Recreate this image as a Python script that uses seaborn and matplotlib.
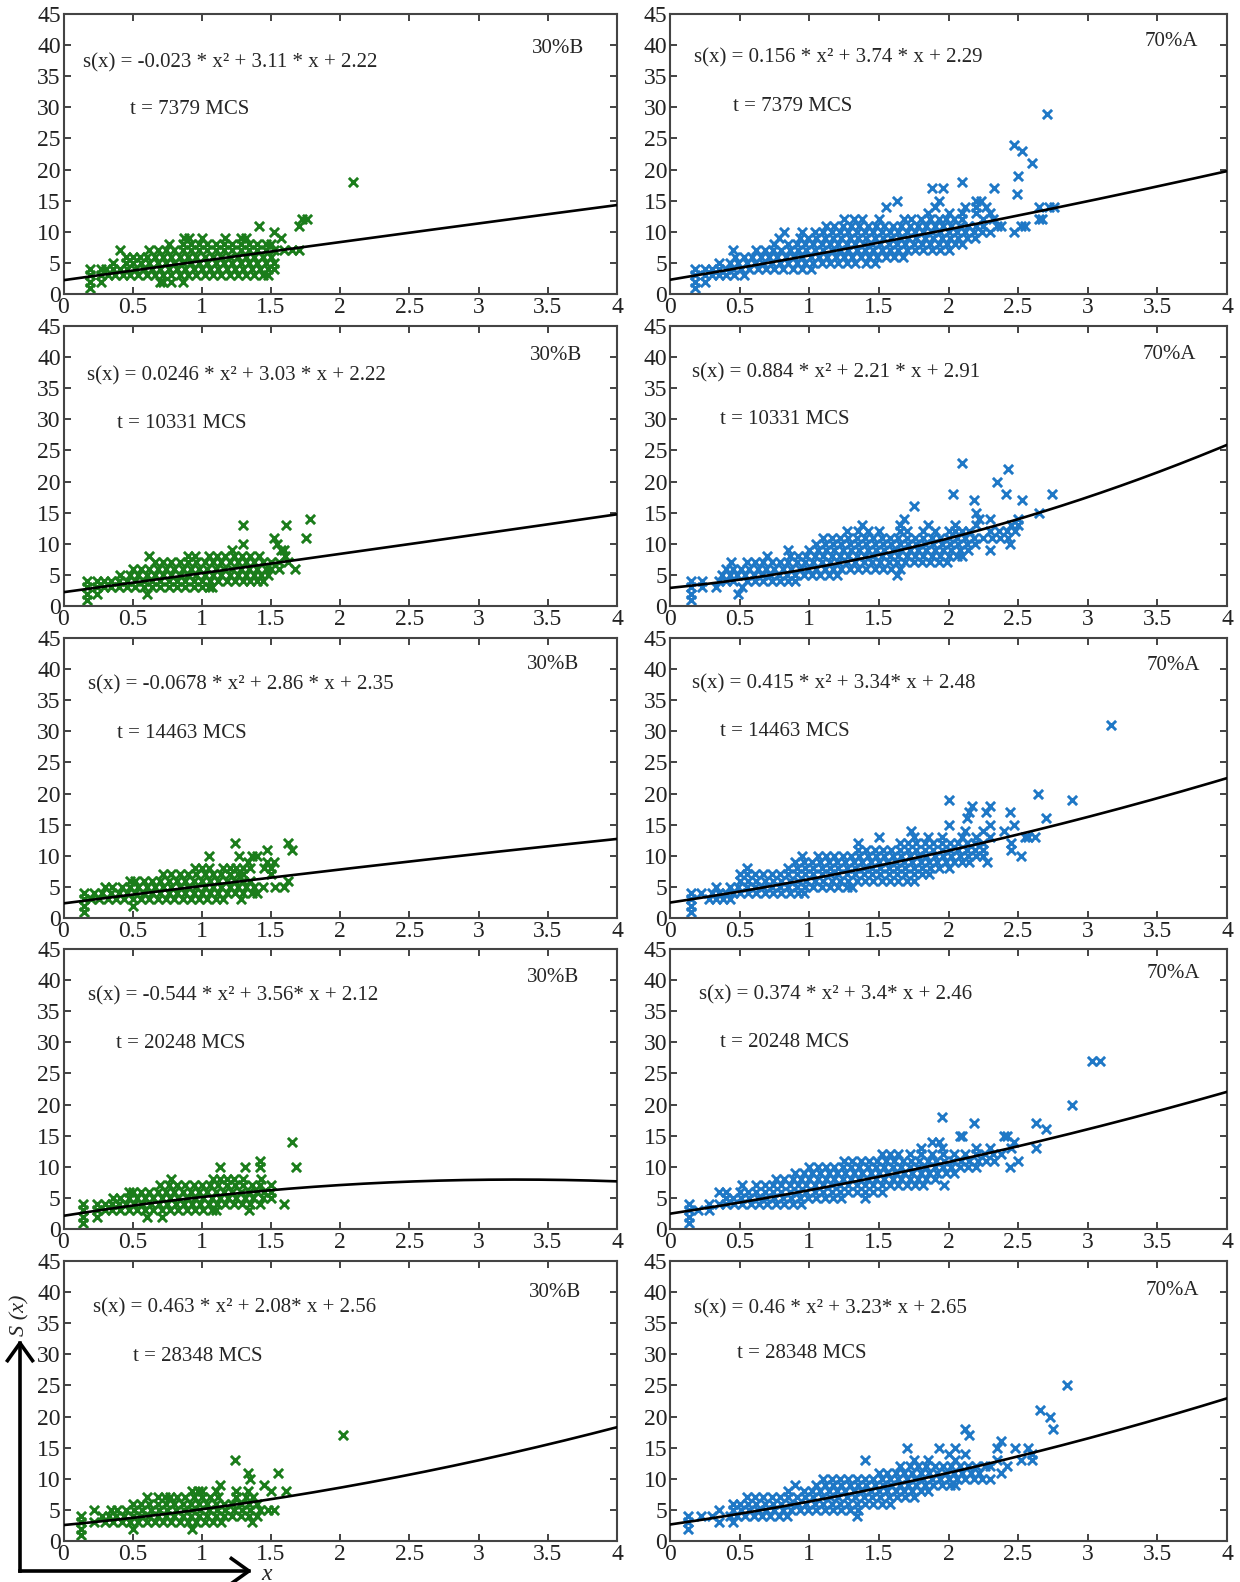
import numpy as np
import pandas as pd
import matplotlib
matplotlib.use("Agg")
import matplotlib.pyplot as plt
import seaborn as sns
from matplotlib.patches import FancyArrowPatch

sns.set_style("ticks")
plt.rcParams['font.family'] = ['Liberation Serif', 'DejaVu Serif']

# ---------------- data ----------------
times = ["7379", "10331", "14463", "20248", "28348"]

coef_B = [(-0.023, 3.11, 2.22), (0.0246, 3.03, 2.22), (-0.0678, 2.86, 2.35),
          (-0.544, 3.56, 2.12), (0.463, 2.08, 2.56)]
coef_A = [(0.156, 3.74, 2.29), (0.884, 2.21, 2.91), (0.415, 3.34, 2.48),
          (0.374, 3.4, 2.46), (0.46, 3.23, 2.65)]

eq_B = ["s(x) = -0.023 * x² + 3.11 * x + 2.22",
        "s(x) = 0.0246 * x² + 3.03 * x + 2.22",
        "s(x) = -0.0678 * x² + 2.86 * x + 2.35",
        "s(x) = -0.544 * x² + 3.56* x + 2.12",
        "s(x) = 0.463 * x² + 2.08* x + 2.56"]
eq_A = ["s(x) = 0.156 * x² + 3.74 * x + 2.29",
        "s(x) = 0.884 * x² + 2.21 * x + 2.91",
        "s(x) = 0.415 * x² + 3.34* x + 2.48",
        "s(x) = 0.374 * x² + 3.4* x + 2.46",
        "s(x) = 0.46 * x² + 3.23* x + 2.65"]

# scatter points: (S value, x values on that level)
B_7379 = [
    (1, "0.19"),
    (2, "0.19 0.27 0.70 0.72 0.78 0.86"),
    (3, "0.19 0.27 0.32 0.37 0.43 0.48 0.54 0.60 0.66 0.72 0.78 0.84 0.90 0.96 1.02 1.08 1.14 1.20 1.26 1.32 1.38 1.44 1.48"),
    (4, "0.19 0.27 0.31 0.36 0.41 0.46 0.52 0.58 0.64 0.70 0.76 0.82 0.88 0.94 1.00 1.06 1.12 1.18 1.24 1.30 1.36 1.42 1.48 1.52"),
    (5, "0.36 0.45 0.50 0.56 0.62 0.68 0.74 0.80 0.86 0.92 0.98 1.04 1.10 1.16 1.22 1.28 1.34 1.40 1.46 1.52"),
    (6, "0.45 0.50 0.55 0.60 0.66 0.72 0.78 0.84 0.90 0.96 1.02 1.08 1.14 1.20 1.26 1.32 1.38 1.44 1.50"),
    (7, "0.41 0.62 0.68 0.74 0.80 0.86 0.92 0.98 1.04 1.10 1.16 1.22 1.28 1.34 1.40 1.46 1.52 1.59 1.65 1.70"),
    (8, "0.76 0.86 0.92 0.98 1.04 1.10 1.16 1.22 1.28 1.34 1.40 1.46 1.50"),
    (9, "0.87 0.91 1.00 1.17 1.28 1.32 1.57"),
    (10, "1.52"),
    (11, "1.41 1.70"),
    (12, "1.72 1.76"),
    (18, "2.09"),
]
A_7379 = [
    (1, "0.18"),
    (2, "0.18 0.25"),
    (3, "0.18 0.25 0.30 0.35 0.40 0.46 0.53"),
    (4, "0.18 0.25 0.30 0.35 0.40 0.45 0.51 0.57 0.63 0.69 0.75 0.81 0.88 0.95 1.01"),
    (5, "0.35 0.43 0.49 0.55 0.61 0.67 0.73 0.79 0.85 0.91 0.97 1.03 1.09 1.15 1.21 1.27 1.33 1.41 1.47"),
    (6, "0.47 0.53 0.59 0.65 0.71 0.77 0.83 0.89 0.95 1.01 1.07 1.13 1.19 1.25 1.31 1.37 1.43 1.49 1.55 1.61 1.67"),
    (7, "0.45 0.62 0.68 0.74 0.80 0.86 0.92 0.98 1.04 1.10 1.16 1.22 1.28 1.34 1.40 1.46 1.52 1.58 1.64 1.70 1.76 1.82 1.88 1.94 2.00"),
    (8, "0.75 0.85 0.91 0.97 1.03 1.09 1.15 1.21 1.27 1.33 1.39 1.45 1.51 1.57 1.63 1.69 1.75 1.81 1.87 1.93 1.99 2.05 2.10"),
    (9, "0.78 0.93 0.99 1.05 1.11 1.17 1.23 1.29 1.35 1.41 1.47 1.53 1.59 1.65 1.71 1.77 1.83 1.89 1.95 2.01 2.07 2.13 2.19"),
    (10, "0.82 0.95 1.04 1.10 1.16 1.22 1.28 1.34 1.40 1.46 1.52 1.58 1.64 1.70 1.76 1.82 1.88 1.94 2.00 2.06 2.12 2.18 2.24 2.30 2.47"),
    (11, "1.12 1.18 1.24 1.30 1.36 1.42 1.48 1.54 1.60 1.66 1.72 1.78 1.84 1.90 1.96 2.02 2.08 2.14 2.20 2.25 2.35 2.38 2.52 2.55"),
    (12, "1.25 1.32 1.38 1.50 1.68 1.73 1.80 1.87 1.93 1.98 2.04 2.10 2.25 2.32 2.65 2.67"),
    (13, "1.85 2.00 2.10 2.20 2.30"),
    (14, "1.55 1.90 2.12 2.20 2.27 2.65 2.72 2.76"),
    (15, "1.63 1.93 2.20 2.23"),
    (16, "2.49"),
    (17, "1.88 1.96 2.33"),
    (18, "2.10"),
    (19, "2.50"),
    (21, "2.60"),
    (23, "2.53"),
    (24, "2.47"),
    (29, "2.71"),
]
B_10331 = [
    (1, "0.17"),
    (2, "0.17 0.24 0.60"),
    (3, "0.17 0.24 0.29 0.34 0.40 0.46 0.52 0.58 0.64 0.70 0.76 0.82 0.88 0.94 1.00 1.05 1.07"),
    (4, "0.17 0.24 0.29 0.34 0.40 0.46 0.52 0.58 0.64 0.70 0.76 0.82 0.88 0.94 1.00 1.06 1.12 1.18 1.24 1.30 1.35 1.40 1.44"),
    (5, "0.41 0.48 0.54 0.60 0.66 0.72 0.78 0.84 0.90 0.96 1.02 1.08 1.14 1.20 1.26 1.32 1.38 1.43 1.48"),
    (6, "0.50 0.56 0.62 0.68 0.74 0.80 0.86 0.92 0.98 1.04 1.10 1.16 1.22 1.28 1.34 1.40 1.46 1.50 1.56 1.67"),
    (7, "0.66 0.72 0.78 0.84 0.90 0.96 1.02 1.08 1.14 1.20 1.26 1.32 1.38 1.44 1.50 1.56 1.62"),
    (8, "0.62 0.90 0.95 1.05 1.11 1.17 1.23 1.29 1.35 1.41 1.60"),
    (9, "1.22 1.57 1.59"),
    (10, "1.30 1.54"),
    (11, "1.52 1.75"),
    (13, "1.30 1.61"),
    (14, "1.78"),
]
A_10331 = [
    (1, "0.15"),
    (2, "0.15 0.49"),
    (3, "0.15 0.23 0.33 0.52"),
    (4, "0.15 0.23 0.35 0.40 0.45 0.55 0.61 0.67 0.73 0.79 0.85 0.90"),
    (5, "0.37 0.43 0.48 0.54 0.60 0.66 0.72 0.78 0.84 0.90 0.96 1.02 1.08 1.14 1.20 1.63"),
    (6, "0.40 0.45 0.51 0.57 0.63 0.69 0.75 0.81 0.87 0.93 0.99 1.05 1.11 1.17 1.23 1.29 1.35 1.41 1.47 1.53 1.59 1.65"),
    (7, "0.44 0.55 0.61 0.67 0.73 0.79 0.85 0.91 0.97 1.03 1.09 1.15 1.21 1.27 1.33 1.39 1.45 1.51 1.57 1.63 1.69 1.75 1.81 1.87 1.93 1.99"),
    (8, "0.70 0.86 0.92 0.98 1.04 1.10 1.16 1.22 1.28 1.34 1.40 1.46 1.52 1.58 1.64 1.70 1.76 1.82 1.88 1.94 2.00 2.06 2.10"),
    (9, "0.85 1.00 1.06 1.12 1.18 1.24 1.30 1.36 1.42 1.48 1.54 1.60 1.66 1.72 1.78 1.84 1.90 1.96 2.02 2.08 2.14 2.30"),
    (10, "1.05 1.11 1.17 1.23 1.29 1.35 1.41 1.47 1.53 1.59 1.65 1.71 1.77 1.83 1.89 1.95 2.01 2.07 2.13 2.19 2.44"),
    (11, "1.10 1.16 1.22 1.28 1.34 1.40 1.46 1.52 1.58 1.64 1.70 1.76 1.82 1.88 1.94 2.00 2.06 2.12 2.18 2.25 2.31 2.37 2.43"),
    (12, "1.27 1.35 1.42 1.50 1.65 1.70 1.82 1.90 2.00 2.05 2.10 2.15 2.30 2.36 2.42 2.48"),
    (13, "1.38 1.65 1.85 2.05 2.20 2.45 2.50"),
    (14, "1.68 2.22 2.30 2.50"),
    (15, "2.20 2.65"),
    (16, "1.75"),
    (17, "2.18 2.53"),
    (18, "2.03 2.41 2.74"),
    (20, "2.35"),
    (22, "2.43"),
    (23, "2.10"),
]
B_14463 = [
    (1, "0.15"),
    (2, "0.15 0.50"),
    (3, "0.15 0.20 0.26 0.32 0.38 0.44 0.50 0.56 0.62 0.68 0.74 0.80 0.86 0.92 0.98 1.04 1.10 1.15 1.28"),
    (4, "0.15 0.22 0.28 0.34 0.40 0.46 0.52 0.58 0.64 0.70 0.76 0.82 0.88 0.94 1.00 1.06 1.12 1.18 1.24 1.30 1.36 1.40"),
    (5, "0.30 0.35 0.42 0.48 0.54 0.60 0.66 0.72 0.78 0.84 0.90 0.96 1.02 1.08 1.14 1.20 1.26 1.32 1.38 1.44 1.53 1.59"),
    (6, "0.48 0.52 0.58 0.64 0.70 0.76 0.82 0.88 0.94 1.00 1.06 1.12 1.18 1.24 1.30 1.35 1.62"),
    (7, "0.72 0.78 0.84 0.90 0.96 1.02 1.08 1.14 1.20 1.26 1.30 1.50"),
    (8, "0.95 1.00 1.05 1.15 1.20 1.25 1.30 1.35 1.45 1.50"),
    (9, "1.33 1.47 1.52"),
    (10, "1.05 1.27 1.36 1.40"),
    (11, "1.47 1.65"),
    (12, "1.24 1.62"),
]
A_14463 = [
    (1, "0.15"),
    (2, "0.15"),
    (3, "0.15 0.28 0.33 0.38 0.43"),
    (4, "0.15 0.22 0.30 0.35 0.40 0.45 0.50 0.56 0.62 0.68 0.74 0.80 0.86 0.92 0.96"),
    (5, "0.33 0.43 0.49 0.55 0.61 0.67 0.73 0.79 0.85 0.91 0.97 1.03 1.09 1.15 1.21 1.27 1.31"),
    (6, "0.50 0.56 0.62 0.68 0.74 0.80 0.86 0.92 0.98 1.04 1.10 1.16 1.22 1.28 1.34 1.40 1.46 1.52 1.58 1.64 1.70 1.75"),
    (7, "0.50 0.55 0.61 0.67 0.73 0.79 0.85 0.91 0.97 1.03 1.09 1.15 1.21 1.27 1.33 1.39 1.45 1.51 1.57 1.63 1.69 1.75 1.81 1.86"),
    (8, "0.55 0.85 0.91 0.97 1.03 1.09 1.15 1.21 1.27 1.33 1.39 1.45 1.51 1.57 1.63 1.69 1.75 1.81 1.87 1.93 2.00"),
    (9, "0.90 0.96 1.02 1.08 1.14 1.20 1.26 1.32 1.38 1.44 1.50 1.56 1.62 1.68 1.74 1.80 1.86 1.92 1.98 2.04 2.10 2.15 2.28"),
    (10, "0.95 1.06 1.12 1.18 1.24 1.30 1.36 1.42 1.48 1.54 1.60 1.66 1.72 1.78 1.84 1.90 1.96 2.02 2.08 2.14 2.20 2.25 2.52"),
    (11, "1.35 1.41 1.47 1.53 1.59 1.65 1.71 1.77 1.83 1.89 1.95 2.01 2.07 2.13 2.19 2.25 2.45"),
    (12, "1.35 1.65 1.71 1.77 1.83 1.89 1.95 2.01 2.07 2.13 2.19 2.25 2.45"),
    (13, "1.50 1.75 1.85 1.95 2.10 2.20 2.30 2.55 2.57 2.62"),
    (14, "1.73 2.12 2.25 2.40"),
    (15, "2.00 2.30 2.47"),
    (16, "2.13 2.70"),
    (17, "2.15 2.27 2.44"),
    (18, "2.17 2.30"),
    (19, "2.00 2.89"),
    (20, "2.64"),
    (31, "3.17"),
]
B_20248 = [
    (1, "0.14"),
    (2, "0.14 0.24 0.60 0.71"),
    (3, "0.14 0.24 0.30 0.35 0.41 0.47 0.53 0.59 0.65 0.71 0.77 0.83 0.89 0.95 1.01 1.07 1.10 1.34"),
    (4, "0.14 0.24 0.30 0.35 0.40 0.45 0.51 0.57 0.63 0.69 0.75 0.81 0.87 0.93 0.99 1.05 1.11 1.17 1.23 1.29 1.35 1.42 1.59"),
    (5, "0.36 0.41 0.47 0.53 0.59 0.65 0.71 0.77 0.83 0.89 0.95 1.01 1.07 1.13 1.19 1.25 1.31 1.37 1.44 1.50"),
    (6, "0.47 0.50 0.56 0.62 0.68 0.74 0.80 0.86 0.92 0.98 1.04 1.10 1.16 1.22 1.28 1.34 1.40 1.45 1.50"),
    (7, "0.70 0.76 0.82 0.88 0.94 1.00 1.06 1.12 1.18 1.24 1.30 1.36 1.42 1.50"),
    (8, "0.78 1.08 1.13 1.18 1.23 1.30 1.43"),
    (10, "1.13 1.31 1.42 1.68"),
    (11, "1.42"),
    (14, "1.65"),
]
A_20248 = [
    (1, "0.14"),
    (2, "0.14"),
    (3, "0.14 0.20 0.28"),
    (4, "0.14 0.28 0.35 0.40 0.46 0.52 0.58 0.64 0.70 0.76 0.82 0.88 0.94"),
    (5, "0.40 0.45 0.51 0.57 0.63 0.69 0.75 0.81 0.87 0.93 0.99 1.05 1.11 1.17 1.23 1.40"),
    (6, "0.35 0.40 0.50 0.56 0.62 0.68 0.74 0.80 0.86 0.92 0.98 1.04 1.10 1.16 1.22 1.28 1.34 1.40 1.46 1.52"),
    (7, "0.52 0.62 0.68 0.74 0.80 0.86 0.92 0.98 1.04 1.10 1.16 1.22 1.28 1.34 1.40 1.46 1.52 1.58 1.64 1.70 1.76 1.82 1.97"),
    (8, "0.76 0.82 0.88 0.94 1.00 1.06 1.12 1.18 1.24 1.30 1.36 1.42 1.48 1.54 1.60 1.66 1.72 1.78 1.84 1.90"),
    (9, "0.90 0.96 1.02 1.08 1.14 1.20 1.26 1.32 1.38 1.44 1.50 1.56 1.62 1.68 1.74 1.80 1.86 1.92 1.98 2.04"),
    (10, "1.00 1.06 1.12 1.18 1.24 1.30 1.36 1.42 1.48 1.54 1.60 1.66 1.72 1.78 1.84 1.90 1.96 2.02 2.08 2.14 2.20 2.44"),
    (11, "1.25 1.31 1.37 1.43 1.49 1.55 1.61 1.67 1.73 1.79 1.85 1.91 1.97 2.03 2.09 2.15 2.21 2.27 2.33 2.50"),
    (12, "1.52 1.58 1.64 1.72 1.80 1.88 1.96 2.04 2.12 2.20 2.26 2.32 2.38"),
    (13, "1.80 1.95 2.20 2.30 2.45 2.63"),
    (14, "1.88 1.93 2.47"),
    (15, "2.08 2.10 2.40 2.42"),
    (16, "2.70"),
    (17, "2.18 2.63"),
    (18, "1.95"),
    (20, "2.89"),
    (27, "3.03 3.09"),
]
B_28348 = [
    (1, "0.13"),
    (2, "0.13 0.50 0.93"),
    (3, "0.13 0.22 0.30 0.36 0.42 0.48 0.54 0.60 0.66 0.72 0.78 0.84 0.90 0.96 1.02 1.08 1.14 1.36"),
    (4, "0.13 0.28 0.33 0.38 0.44 0.50 0.56 0.62 0.68 0.74 0.80 0.86 0.92 0.98 1.04 1.10 1.16 1.22 1.28 1.34 1.40"),
    (5, "0.22 0.34 0.39 0.45 0.51 0.57 0.63 0.69 0.75 0.81 0.87 0.93 0.99 1.05 1.11 1.17 1.23 1.29 1.35 1.42 1.48 1.52"),
    (6, "0.50 0.56 0.62 0.68 0.74 0.80 0.86 0.92 0.98 1.04 1.10 1.16 1.22 1.28 1.34 1.40"),
    (7, "0.60 0.68 0.73 0.77 0.82 0.88 0.94 1.00 1.06 1.12 1.25 1.32 1.37"),
    (8, "0.93 0.97 1.00 1.10 1.25 1.33 1.50 1.61"),
    (9, "1.13 1.45"),
    (10, "1.35"),
    (11, "1.33 1.55"),
    (13, "1.24"),
    (17, "2.02"),
]
A_28348 = [
    (2, "0.13"),
    (3, "0.13 0.35 0.45"),
    (4, "0.13 0.22 0.30 0.43 0.48 0.54 0.60 0.66 0.72 0.78 0.84 1.34"),
    (5, "0.35 0.45 0.51 0.57 0.63 0.69 0.75 0.81 0.87 0.93 0.99 1.05 1.11 1.17 1.23 1.29 1.35"),
    (6, "0.45 0.50 0.56 0.62 0.68 0.74 0.80 0.86 0.92 0.98 1.04 1.10 1.16 1.22 1.28 1.34 1.40 1.46 1.52 1.58"),
    (7, "0.55 0.61 0.67 0.73 0.79 0.85 0.91 0.97 1.03 1.09 1.15 1.21 1.27 1.33 1.39 1.45 1.51 1.57 1.63 1.69 1.75"),
    (8, "0.85 0.96 1.02 1.08 1.14 1.20 1.26 1.32 1.38 1.44 1.50 1.56 1.62 1.68 1.74 1.80 1.85"),
    (9, "0.90 1.05 1.11 1.17 1.23 1.29 1.35 1.41 1.47 1.53 1.59 1.65 1.71 1.77 1.83 1.89 1.95 2.01 2.05"),
    (10, "1.10 1.16 1.22 1.28 1.34 1.40 1.46 1.52 1.58 1.64 1.70 1.76 1.82 1.88 1.94 2.00 2.06 2.12 2.18 2.24 2.30"),
    (11, "1.50 1.56 1.62 1.68 1.74 1.80 1.86 1.92 1.98 2.04 2.10 2.16 2.22 2.38"),
    (12, "1.65 1.72 1.78 1.84 1.90 1.96 2.02 2.08 2.14 2.20 2.26 2.30 2.42"),
    (13, "1.40 1.75 1.85 2.05 2.35 2.52 2.60"),
    (14, "2.00 2.12 2.60"),
    (15, "1.70 1.93 2.05 2.35 2.48 2.57"),
    (16, "2.38"),
    (17, "2.15"),
    (18, "2.12 2.75"),
    (20, "2.73"),
    (21, "2.66"),
    (25, "2.85"),
]

pts_B = [B_7379, B_10331, B_14463, B_20248, B_28348]
pts_A = [A_7379, A_10331, A_14463, A_20248, A_28348]

# text anchor positions in data units (eq: left/center, t: left/center, tag: right/center)
pos_B = [((0.14, 37.2), (0.48, 29.6), (3.76, 39.5)),
         ((0.17, 37.0), (0.39, 29.4), (3.75, 40.2)),
         ((0.18, 37.4), (0.39, 29.6), (3.73, 40.7)),
         ((0.18, 37.5), (0.38, 29.8), (3.73, 40.4)),
         ((0.21, 37.5), (0.50, 29.6), (3.74, 40.0))]
pos_A = [((0.17, 37.9), (0.45, 30.1), (3.79, 40.6)),
         ((0.16, 37.5), (0.36, 29.9), (3.78, 40.4)),
         ((0.16, 37.7), (0.36, 30.0), (3.81, 40.5)),
         ((0.21, 37.6), (0.36, 30.0), (3.81, 41.1)),
         ((0.17, 37.3), (0.48, 30.1), (3.80, 40.3))]

GREEN = "#1b7d1b"
BLUE = "#1f78c6"


def to_frame(rows):
    xs, ys = [], []
    for yv, s in rows:
        for v in s.split():
            xs.append(float(v))
            ys.append(yv)
    return pd.DataFrame({"x": xs, "S": ys})


W, H = 1240, 1582
fig = plt.figure(figsize=(W / 100, H / 100), dpi=100)

col_left = [(63.5, 553.5), (670.0, 557.0)]
row_tops = [14, 326, 638, 949, 1261]
ax_h = 280

xgrid = np.linspace(0, 4, 200)

for r in range(5):
    for c in range(2):
        l, w = col_left[c]
        ax = fig.add_axes([l / W, 1 - (row_tops[r] + ax_h) / H, w / W, ax_h / H])
        if c == 0:
            rows, coef, eq, tag, pos, col = pts_B[r], coef_B[r], eq_B[r], "30%B", pos_B[r], GREEN
        else:
            rows, coef, eq, tag, pos, col = pts_A[r], coef_A[r], eq_A[r], "70%A", pos_A[r], BLUE
        df = to_frame(rows)
        sns.scatterplot(data=df, x="x", y="S", marker="x", color=col, s=44,
                        linewidth=2.1, ax=ax, legend=False, zorder=2)
        ax.plot(xgrid, np.polyval(coef, xgrid), color="black", lw=1.9, zorder=3)
        ax.set_xlim(0, 4)
        ax.set_ylim(0, 45)
        ax.set_xticks(np.arange(0, 4.01, 0.5))
        ax.set_xticklabels([f"{v:g}" for v in np.arange(0, 4.01, 0.5)])
        ax.set_yticks(np.arange(0, 46, 5))
        ax.set_xlabel("")
        ax.set_ylabel("")
        ax.tick_params(direction="in", top=True, right=True, length=5, width=1.2,
                       labelsize=17, pad=2, colors="#222222")
        for sp in ax.spines.values():
            sp.set_linewidth(1.5)
            sp.set_color("#444444")
            sp.set_visible(True)
        (ex, ey), (tx, ty), (gx, gy) = pos
        ax.text(ex, ey, eq, fontsize=15, ha="left", va="center")
        ax.text(tx, ty, f"t = {times[r]} MCS", fontsize=15, ha="left", va="center")
        ax.text(gx, gy, tag, fontsize=15, ha="right", va="center")

# axis-direction arrows at bottom left
def fxy(x, y):
    return (x / W, 1 - y / H)

corner = fxy(20, 1571)
for end in (fxy(20, 1340), fxy(252, 1571)):
    arr = FancyArrowPatch(corner, end, transform=fig.transFigure,
                          arrowstyle="->,head_length=0.7,head_width=0.5",
                          mutation_scale=18, lw=2.6, color="black",
                          shrinkA=0, shrinkB=0, capstyle="projecting")
    fig.add_artist(arr)

fig.text(*fxy(20, 1315), "S (x)", rotation=90, fontsize=16, style="italic",
         ha="center", va="center")
fig.text(*fxy(261, 1574), "x", fontsize=17, style="italic", ha="left", va="center")

fig.savefig("out.png", dpi=100)
